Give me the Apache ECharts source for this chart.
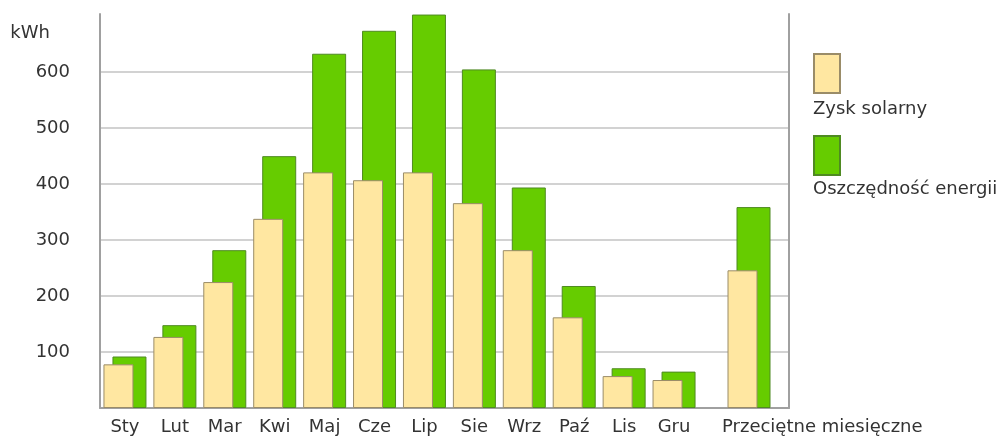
<!DOCTYPE html>
<html>
<head>
<meta charset="utf-8">
<script src="https://cdn.jsdelivr.net/npm/echarts@6/dist/echarts.min.js"></script>
<style>
html,body{margin:0;padding:0;background:#fff;}
#chart{width:1003px;height:436px;}
</style>
</head>
<body>
<div id="chart"></div>
<script>
const months = ['Sty','Lut','Mar','Kwi','Maj','Cze','Lip','Sie','Wrz','Paź','Lis','Gru'];
const avgCategory = ['Przeciętne miesięczne'];
const solarGain = [78, 127, 225, 338, 421, 407, 421, 366, 282, 162, 57, 50];
const energySaving = [92, 148, 282, 450, 633, 674, 703, 605, 394, 218, 71, 65];
const solarAvg = [246];
const savingAvg = [359];
const yTickLabels = [100, 200, 300, 400, 500, 600];
const seriesNames = ['Zysk solarny', 'Oszczędność energii'];

const FONT = 'DejaVu Sans';
const TXT = '#333333';
const yellowStyle = {color: '#FFE7A1', borderColor: '#9a8c68', borderWidth: 1};
const greenStyle = {color: '#66CC00', borderColor: '#4f8a22', borderWidth: 1};

const chart = echarts.init(document.getElementById('chart'), null, {renderer: 'canvas'});
chart.setOption({
  animation: false,
  backgroundColor: '#ffffff',
  textStyle: {fontFamily: FONT},
  legend: [
    { // colour swatches
      orient: 'vertical', left: 813, top: 53, padding: 0,
      itemWidth: 26, itemHeight: 39, itemGap: 41, icon: 'rect',
      selectedMode: false, data: seriesNames,
      formatter: () => '',
      textStyle: {fontFamily: FONT, fontSize: 18, color: TXT}
    },
    { // captions below the swatches
      orient: 'vertical', left: 807, top: 99, padding: 0,
      itemWidth: 1, itemHeight: 20, itemGap: 60, icon: 'rect',
      itemStyle: {color: 'rgba(0,0,0,0)', borderWidth: 0, borderColor: 'rgba(0,0,0,0)'},
      selectedMode: false, data: seriesNames,
      textStyle: {fontFamily: FONT, fontSize: 18, color: TXT}
    }
  ],
  grid: [
    {left: 100, top: 72, width: 689, height: 336},
    {left: 100, top: 14, width: 599, height: 394},
    {left: 699, top: 14, width: 100, height: 394}
  ],
  xAxis: [
    {gridIndex: 0, type: 'value', min: 0, max: 1,
     axisLine: {show: true, lineStyle: {color: '#a0a0a0', width: 2}},
     axisTick: {show: false}, axisLabel: {show: false}, splitLine: {show: false}},
    {gridIndex: 1, type: 'category', data: months,
     axisLine: {show: false}, axisTick: {show: false},
     axisLabel: {fontFamily: FONT, fontSize: 18, color: TXT, margin: 10, interval: 0}},
    {gridIndex: 2, type: 'category', data: avgCategory,
     axisLine: {show: false}, axisTick: {show: false},
     axisLabel: {fontFamily: FONT, fontSize: 18, color: TXT, margin: 10, interval: 0,
                 align: 'left', padding: [0, 0, 0, -27]}}
  ],
  yAxis: [
    {gridIndex: 0, type: 'value', min: 0, max: 600, interval: 100,
     name: 'kWh', nameLocation: 'end', nameGap: 30,
     nameTextStyle: {fontFamily: FONT, fontSize: 18, color: TXT, align: 'right', padding: [0, 50, 0, 0]},
     axisLine: {show: false}, axisTick: {show: false},
     axisLabel: {fontFamily: FONT, fontSize: 18, color: TXT, margin: 30,
                 formatter: v => yTickLabels.indexOf(v) >= 0 ? String(v) : ''},
     splitLine: {show: true, lineStyle: {color: '#d2d2d2', width: 2}}},
    {gridIndex: 1, type: 'value', min: 0, max: 704,
     axisLine: {show: true, lineStyle: {color: '#a0a0a0', width: 2}},
     axisTick: {show: false}, axisLabel: {show: false}, splitLine: {show: false}},
    {gridIndex: 2, type: 'value', min: 0, max: 704, position: 'right', offset: -10,
     axisLine: {show: true, lineStyle: {color: '#a0a0a0', width: 2}},
     axisTick: {show: false}, axisLabel: {show: false}, splitLine: {show: false}}
  ],
  series: [
    {name: seriesNames[0], type: 'bar', xAxisIndex: 1, yAxisIndex: 1, data: solarGain,
     barWidth: 30, barGap: '-70%', z: 3, itemStyle: yellowStyle},
    {name: seriesNames[1], type: 'bar', xAxisIndex: 1, yAxisIndex: 1, data: energySaving,
     barWidth: 34, barGap: '-70%', z: 2, itemStyle: greenStyle},
    {name: seriesNames[0], type: 'bar', xAxisIndex: 2, yAxisIndex: 2, data: solarAvg,
     barWidth: 30, barGap: '-70%', z: 3, itemStyle: yellowStyle},
    {name: seriesNames[1], type: 'bar', xAxisIndex: 2, yAxisIndex: 2, data: savingAvg,
     barWidth: 34, barGap: '-70%', z: 2, itemStyle: greenStyle}
  ]
});
</script>
</body>
</html>
